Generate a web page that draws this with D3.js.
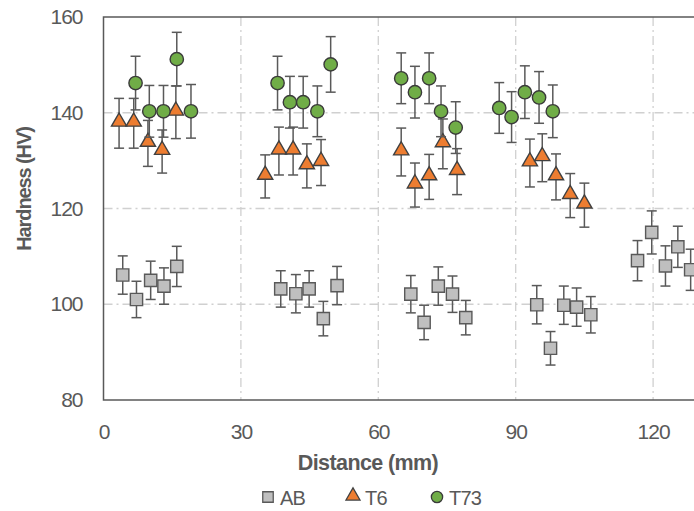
<!DOCTYPE html>
<html>
<head>
<meta charset="utf-8">
<script src="https://cdn.jsdelivr.net/npm/d3@7"></script>
<style>
  body { margin: 0; background: #fff; }
  svg { display: block; font-family: "Liberation Sans", Arial, sans-serif; }
</style>
</head>
<body>
<div id="chart"></div>
<script>
// hardness data
const abX = [4.2, 7.2, 10.3, 13.2, 16.0, 38.7, 42.0, 44.9, 48.0, 51.0, 67.1, 70.0, 73.1, 76.2, 79.1, 94.6, 97.6, 100.5, 103.3, 106.4, 116.6, 119.7, 122.7, 125.4, 128.2];
const abY = [106.1, 101.0, 105.0, 103.8, 107.9, 103.2, 102.2, 103.2, 97.0, 103.9, 102.1, 96.2, 103.8, 102.1, 97.2, 99.9, 90.8, 99.8, 99.4, 97.8, 109.1, 115.0, 108.0, 112.0, 107.2];
const abErr = [4.0, 3.8, 4.0, 3.8, 4.2, 3.8, 4.0, 3.8, 3.6, 4.0, 3.9, 3.6, 4.0, 3.8, 3.6, 4.0, 3.5, 4.0, 4.0, 3.8, 4.2, 4.5, 4.2, 4.3, 4.3];

const t6X = [3.4, 6.6, 9.7, 12.8, 15.8, 35.3, 38.3, 41.4, 44.4, 47.5, 65.0, 68.0, 71.1, 74.1, 77.2, 93.1, 95.8, 98.8, 101.9, 105.0];
const t6Y = [137.8, 137.8, 133.6, 131.9, 140.1, 126.7, 132.0, 132.0, 128.9, 129.6, 131.8, 124.9, 126.6, 133.5, 127.7, 129.5, 130.6, 126.6, 122.7, 120.7];
const t6Err = [5.2, 5.2, 4.8, 4.5, 5.5, 4.5, 5.0, 5.0, 4.6, 4.8, 5.0, 4.6, 4.7, 5.2, 4.8, 5.0, 5.0, 4.8, 4.6, 4.6];

const t73X = [7.0, 10.0, 13.1, 16.0, 19.1, 38.0, 40.7, 43.6, 46.7, 49.6, 65.0, 68.0, 71.1, 73.7, 76.9, 86.4, 89.1, 92.0, 95.1, 98.1];
const t73Y = [146.2, 140.3, 140.3, 151.2, 140.3, 146.2, 142.2, 142.2, 140.3, 150.1, 147.2, 144.3, 147.2, 140.3, 136.9, 141.0, 139.1, 144.3, 143.2, 140.3];
const t73Err = [5.6, 5.4, 5.4, 5.6, 5.6, 5.6, 5.4, 5.4, 5.3, 5.8, 5.3, 5.4, 5.3, 5.3, 5.4, 5.3, 5.3, 5.5, 5.4, 5.5];

const xTicks = [0, 30, 60, 90, 120];
const yTicks = [80, 100, 120, 140, 160];
const seriesNames = ["AB", "T6", "T73"];

const width = 694, height = 511;
const plotLeft = 103.5, plotTop = 17, plotBottom = 400;

let svg = d3.select("#chart").append("svg")
  .attr("width", width)
  .attr("height", height);

let x = d3.scaleLinear().domain([0, 150]).range([plotLeft, plotLeft + 150 * 4.58]);
let y = d3.scaleLinear().domain([80, 160]).range([plotBottom, plotTop]);

let gridColor = "#d0d0d0";
let axisColor = "#595959";

// grid
svg.append("g").selectAll("line")
  .data(yTicks.slice(1, -1))
  .enter().append("line")
    .attr("x1", plotLeft).attr("x2", width)
    .attr("y1", d => y(d)).attr("y2", d => y(d))
    .attr("stroke", gridColor).attr("stroke-width", 1.3)
    .attr("stroke-dasharray", "9,4,2,4");

svg.append("g").selectAll("line")
  .data(xTicks.slice(1))
  .enter().append("line")
    .attr("x1", d => x(d)).attr("x2", d => x(d))
    .attr("y1", plotTop).attr("y2", plotBottom)
    .attr("stroke", gridColor).attr("stroke-width", 1.3)
    .attr("stroke-dasharray", "9,4,2,4");

// plot border
svg.append("rect")
  .attr("x", plotLeft).attr("y", plotTop)
  .attr("width", x(150) - plotLeft).attr("height", plotBottom - plotTop)
  .attr("fill", "none")
  .attr("stroke", axisColor).attr("stroke-width", 1.5);

// axes
let yAxis = svg.append("g")
  .attr("transform", "translate(" + plotLeft + ",0)")
  .call(d3.axisLeft(y).tickValues(yTicks).tickSize(0).tickPadding(21));
let xAxis = svg.append("g")
  .attr("transform", "translate(0," + plotBottom + ")")
  .call(d3.axisBottom(x).tickValues(xTicks).tickSize(0).tickPadding(24));
[xAxis, yAxis].forEach(a => {
  a.select(".domain").remove();
  a.selectAll("text")
    .attr("fill", axisColor)
    .style("font-size", "21px")
    .style("letter-spacing", "-1px");
});

// titles
svg.append("text")
  .attr("x", 368).attr("y", 470)
  .attr("text-anchor", "middle")
  .attr("fill", axisColor)
  .attr("font-weight", "bold")
  .attr("font-size", "21.5px")
  .attr("letter-spacing", "-0.6px")
  .text("Distance (mm)");

svg.append("text")
  .attr("transform", "translate(31,189) rotate(-90)")
  .attr("text-anchor", "middle")
  .attr("fill", axisColor)
  .attr("font-weight", "bold")
  .attr("font-size", "20px")
  .attr("letter-spacing", "-1.1px")
  .text("Hardness (HV)");

// markers
let square = d3.symbol().type(d3.symbolSquare).size(150);
let triangle = d3.symbol().type(d3.symbolTriangle).size(100);
let circle = d3.symbol().type(d3.symbolCircle).size(140);

let series = [
  { xs: abX, ys: abY, errs: abErr, sym: square, fill: "#bfbfbf", stroke: "#595959", dy: 0 },
  { xs: t6X, ys: t6Y, errs: t6Err, sym: triangle, fill: "#ed7d31", stroke: "#404040", dy: -1.5 },
  { xs: t73X, ys: t73Y, errs: t73Err, sym: circle, fill: "#70ad47", stroke: "#3a3a3a", dy: 0 }
];

let plot = svg.append("g");
series.forEach(s => {
  let pts = s.xs.map((xv, i) => ({ x: xv, y: s.ys[i], e: s.errs[i] }));
  let eb = plot.append("g")
    .attr("stroke", "#595959")
    .attr("stroke-width", 1.5)
    .attr("fill", "none");
  let bars = eb.selectAll("g").data(pts).enter().append("g");
  bars.append("line")
    .attr("x1", d => x(d.x)).attr("x2", d => x(d.x))
    .attr("y1", d => y(d.y - d.e)).attr("y2", d => y(d.y + d.e));
  bars.append("line")
    .attr("x1", d => x(d.x) - 5).attr("x2", d => x(d.x) + 5)
    .attr("y1", d => y(d.y + d.e)).attr("y2", d => y(d.y + d.e));
  bars.append("line")
    .attr("x1", d => x(d.x) - 5).attr("x2", d => x(d.x) + 5)
    .attr("y1", d => y(d.y - d.e)).attr("y2", d => y(d.y - d.e));

  plot.append("g").selectAll("path")
    .data(pts)
    .enter().append("path")
      .attr("d", s.sym)
      .attr("transform", d => "translate(" + x(d.x) + "," + (y(d.y) + s.dy) + ")")
      .attr("fill", s.fill)
      .attr("stroke", s.stroke)
      .attr("stroke-width", 1.4);
});

// legend
let legendX = [268, 353, 437];
let legendSym = [
  d3.symbol().type(d3.symbolSquare).size(110),
  d3.symbol().type(d3.symbolTriangle).size(85),
  d3.symbol().type(d3.symbolCircle).size(100)
];
let legend = svg.append("g");
seriesNames.forEach((name, i) => {
  let s = series[i];
  legend.append("path")
    .attr("d", legendSym[i])
    .attr("transform", "translate(" + legendX[i] + "," + (497 + (i === 1 ? -1 : 0)) + ")")
    .attr("fill", s.fill)
    .attr("stroke", s.stroke)
    .attr("stroke-width", 1.3);
  legend.append("text")
    .attr("x", legendX[i] + 12)
    .attr("y", 505)
    .attr("fill", axisColor)
    .attr("font-size", "20px")
    .attr("letter-spacing", "-0.8px")
    .text(name);
});
</script>
</body>
</html>
